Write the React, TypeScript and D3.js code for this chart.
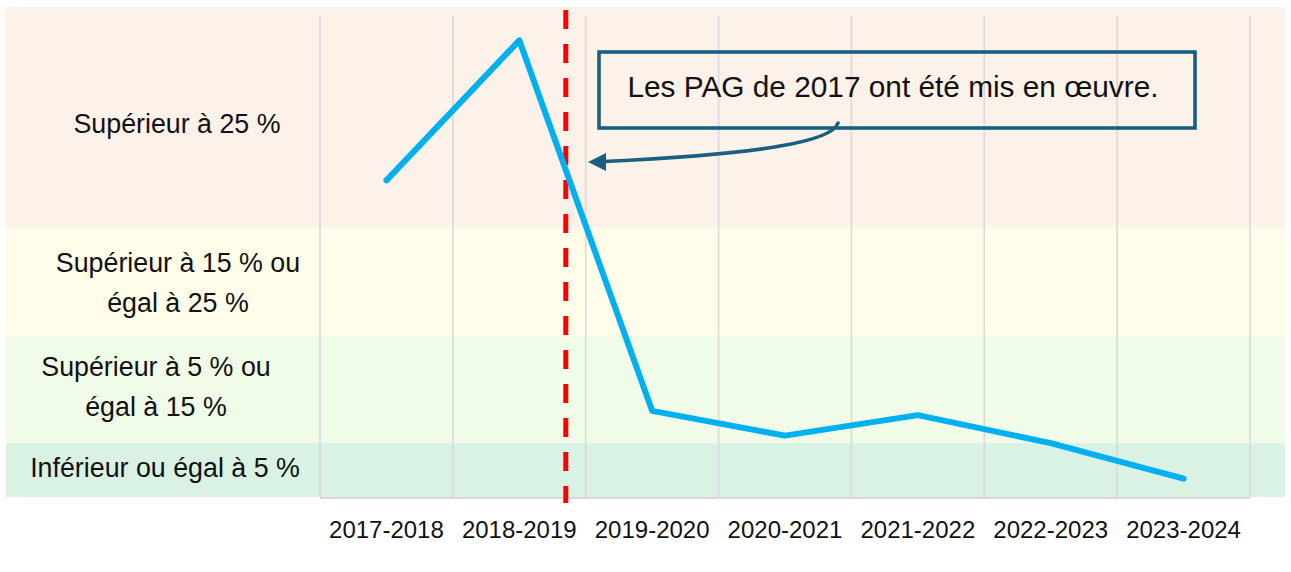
import React from 'react';
import * as d3 from 'd3';

// ---- data ----
const categories = ['2017-2018', '2018-2019', '2019-2020', '2020-2021', '2021-2022', '2022-2023', '2023-2024'];
const values = [29.4, 42.4, 8.0, 5.7, 7.6, 5.0, 1.7];
const bandBreaks = [0, 5, 15, 25, 45.5];
const bandLabels = [
  ['Inférieur ou égal à 5 %'],
  ['Supérieur à 5 % ou', 'égal à 15 %'],
  ['Supérieur à 15 % ou', 'égal à 25 %'],
  ['Supérieur à 25 %'],
];
const policyIndex = 1.35; // PAG 2017 implementation marker (category index units)
const annotationText = 'Les PAG de 2017 ont été mis en œuvre.';

// ---- layout / style ----
const W = 1291;
const H = 572;
const bandColors = ['#D9F2E3', '#F0FCE8', '#FFFDEA', '#FDF2E9'];
const bandLabelX = [165, 156, 178, 177];
const bandLabelBaseline = [477, 376, 272, 133];
const FONT = "'Liberation Sans', Arial, sans-serif";

export default function App() {
  const plotLeft = 320;
  const plotRight = 1250;
  const plotTop = 7;
  const plotBottom = 497;

  const x = d3.scaleBand<string>().domain(categories).range([plotLeft, plotRight]).padding(0);
  const y = d3.scaleLinear().domain([bandBreaks[0], bandBreaks[bandBreaks.length - 1]]).range([plotBottom, plotTop]);
  const bw = x.bandwidth();
  const cx = (c: string) => (x(c) as number) + bw / 2;

  const line = d3
    .line<number>()
    .x((_, i) => cx(categories[i]))
    .y((v) => y(v));

  const policyX = plotLeft + (policyIndex + 0.5) * bw;

  const gridXs = d3.range(categories.length + 1).map((i) => plotLeft + i * bw);

  // annotation geometry
  const boxX = 599, boxY = 52, boxW = 596, boxH = 76;
  const tipX = 588, tipY = 162;
  const arrowColor = '#1B5E80';

  return (
    <div style={{ position: 'absolute', left: 0, top: 0 }}>
      <svg width={W} height={H} style={{ display: 'block', background: '#fff' }}>
        {/* bands */}
        {bandColors.map((c, i) => (
          <rect
            key={'band' + i}
            x={6}
            y={y(bandBreaks[i + 1])}
            width={1279}
            height={y(bandBreaks[i]) - y(bandBreaks[i + 1])}
            fill={c}
          />
        ))}
        {/* band labels */}
        {bandLabels.map((lines, i) => (
          <text
            key={'bl' + i}
            x={bandLabelX[i]}
            y={bandLabelBaseline[i]}
            textAnchor="middle"
            fontFamily={FONT}
            fontSize={26.8}
            fill="#111"
          >
            {lines.map((t, j) => (
              <tspan key={j} x={bandLabelX[i]} dy={j === 0 ? 0 : 40}>
                {t}
              </tspan>
            ))}
          </text>
        ))}
        {/* gridlines */}
        {gridXs.map((gx, i) => (
          <line key={'g' + i} x1={gx} x2={gx} y1={16} y2={plotBottom + 1} stroke="#D9D9D9" strokeWidth={1.6} />
        ))}
        <line x1={plotLeft} x2={plotRight} y1={plotBottom + 1} y2={plotBottom + 1} stroke="#D9D9D9" strokeWidth={1.8} />

        {/* policy marker */}
        <line
          x1={policyX}
          x2={policyX}
          y1={10}
          y2={503}
          stroke="#FF0000"
          strokeWidth={5}
          strokeDasharray="19 15"
        />

        {/* data line */}
        <path
          d={line(values) || ''}
          fill="none"
          stroke="#00B0F0"
          strokeWidth={6}
          strokeLinecap="round"
          strokeLinejoin="round"
        />

        {/* annotation */}
        <rect x={boxX} y={boxY} width={boxW} height={boxH} fill="none" stroke={arrowColor} strokeWidth={3.6} />
        <text
          x={boxX + boxW / 2 - 4}
          y={97}
          textAnchor="middle"
          fontFamily={FONT}
          fontSize={29.8}
          fill="#111"
        >
          {annotationText}
        </text>
        <path
          d={`M838,123 C832,142 760,154 ${tipX + 16},${tipY - 0.5}`}
          fill="none"
          stroke={arrowColor}
          strokeWidth={3.6}
          strokeLinecap="round"
        />
        <polygon
          points={`${tipX},${tipY} ${tipX + 18},${tipY - 9} ${tipX + 18},${tipY + 9}`}
          fill={arrowColor}
        />

        {/* x axis labels */}
        {categories.map((c) => (
          <text
            key={'xl' + c}
            x={cx(c)}
            y={538}
            textAnchor="middle"
            fontFamily={FONT}
            fontSize={24}
            fill="#111"
          >
            {c}
          </text>
        ))}
      </svg>
    </div>
  );
}
